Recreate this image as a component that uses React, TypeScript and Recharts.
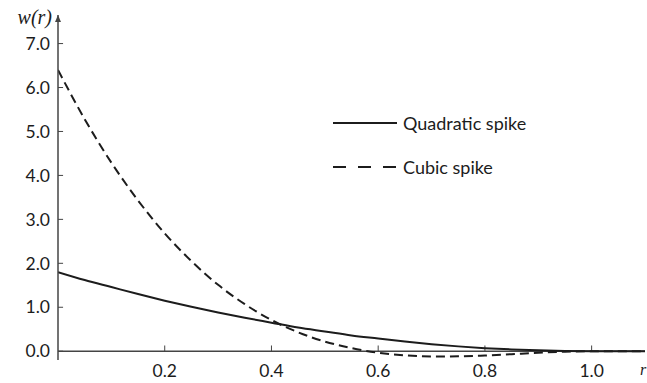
import {
  LineChart,
  Line,
  XAxis,
  YAxis,
  ReferenceLine,
  ReferenceDot,
  Legend
} from 'recharts'

// sample radii and the two kernel profiles
const rValues = [
  0, 0.05, 0.1, 0.15, 0.2, 0.25, 0.3, 0.35, 0.4, 0.45, 0.5, 0.55,
  0.6, 0.65, 0.7, 0.75, 0.8, 0.85, 0.9, 0.95, 1.0, 1.05, 1.1
]
const quadraticSpike = [
  1.8, 1.62, 1.46, 1.3, 1.15, 1.01, 0.88, 0.76, 0.65, 0.54, 0.45, 0.36,
  0.29, 0.22, 0.16, 0.11, 0.07, 0.04, 0.02, 0.005, 0, 0, 0
]
const cubicSpike = [
  6.4, 5.28, 4.29, 3.43, 2.68, 2.05, 1.51, 1.07, 0.71, 0.43, 0.22, 0.07,
  -0.035, -0.095, -0.12, -0.117, -0.097, -0.067, -0.035, -0.01, 0, 0, 0
]
const xTicks = [0.2, 0.4, 0.6, 0.8, 1.0]
const yTicks = [0, 1, 2, 3, 4, 5, 6, 7]

const data = rValues.map((r, i) => ({
  r,
  quadratic: quadraticSpike[i],
  cubic: cubicSpike[i]
}))

const FONT = 'Lato, "Open Sans", sans-serif'
const INK = '#1c1c1c'
const AXIS = '#444'

function AxisArrow(props: any) {
  const { cx, cy } = props
  return (
    <g>
      <polygon
        points={`${cx},${cy} ${cx - 3},${cy + 7} ${cx + 3},${cy + 7}`}
        fill={AXIS}
      />
      <text
        x={cx - 6}
        y={cy + 9}
        textAnchor="end"
        fontFamily='"Liberation Serif", serif'
        fontStyle="italic"
        fontSize={20}
        fill={INK}
      >
        w(r)
      </text>
    </g>
  )
}

// axis variable at the right end of the r axis
function RLabel(props: any) {
  const { cx, cy } = props
  return (
    <text
      x={cx - 5}
      y={cy + 24}
      fontFamily='"Liberation Serif", serif'
      fontStyle="italic"
      fontSize={16}
      fill={INK}
    >
      r
    </text>
  )
}

function SpikeLegend() {
  const rows = [
    { name: 'Quadratic spike', dash: undefined },
    { name: 'Cubic spike', dash: '13 12' }
  ]
  return (
    <div>
      {rows.map((row) => (
        <div
          key={row.name}
          style={{ display: 'flex', alignItems: 'center', height: 44 }}
        >
          <svg width={70} height={10}>
            <line
              x1={0}
              y1={5}
              x2={64}
              y2={5}
              stroke={INK}
              strokeWidth={2}
              strokeDasharray={row.dash}
            />
          </svg>
          <span style={{ fontFamily: FONT, fontSize: 18, color: INK }}>
            {row.name}
          </span>
        </div>
      ))}
    </div>
  )
}

export default function App() {
  return (
    <div style={{ position: 'fixed', left: 0, top: 0, background: '#fff' }}>
      <LineChart
        width={647}
        height={383}
        data={data}
        margin={{ top: 15, right: 2, bottom: 0, left: 0 }}
      >
        <XAxis
          type="number"
          dataKey="r"
          domain={[0, 1.1]}
          ticks={xTicks}
          allowDataOverflow
          tickFormatter={(v: number) => v.toFixed(1)}
          axisLine={false}
          tickLine={false}
          tickSize={3}
          tickMargin={2}
          height={23}
          tick={{ fontFamily: FONT, fontSize: 17.5, fill: INK }}
        />
        <YAxis
          type="number"
          domain={[-0.2, 7.65]}
          ticks={yTicks}
          allowDataOverflow
          tickFormatter={(v: number) => v.toFixed(1)}
          axisLine={{ stroke: AXIS, strokeWidth: 1.5 }}
          tickLine={false}
          tickSize={6}
          tickMargin={2}
          width={58}
          tick={{ fontFamily: FONT, fontSize: 17.5, fill: INK }}
        />
        <ReferenceLine y={0} stroke={AXIS} strokeWidth={1.5} />
        {xTicks.map((t) => (
          <ReferenceLine
            key={`xt-${t}`}
            segment={[{ x: t, y: 0 }, { x: t, y: 0.13 }]}
            stroke={AXIS}
            strokeWidth={1}
          />
        ))}
        {yTicks.map((t) => (
          <ReferenceLine
            key={`yt-${t}`}
            segment={[{ x: 0, y: t }, { x: 0.0095, y: t }]}
            stroke={AXIS}
            strokeWidth={1}
          />
        ))}
        <ReferenceDot x={0} y={7.65} ifOverflow="visible" shape={AxisArrow} />
        <ReferenceDot x={1.1} y={0} ifOverflow="visible" shape={RLabel} />
        <Line
          type="monotone"
          dataKey="quadratic"
          stroke={INK}
          strokeWidth={2}
          dot={false}
          isAnimationActive={false}
        />
        <Line
          type="monotone"
          dataKey="cubic"
          stroke={INK}
          strokeWidth={2}
          strokeDasharray="9 5"
          dot={false}
          isAnimationActive={false}
        />
        <Legend
          layout="vertical"
          align="center"
          verticalAlign="middle"
          content={<SpikeLegend />}
          wrapperStyle={{ position: 'absolute', left: 333, top: 101, width: 220 }}
        />
      </LineChart>
    </div>
  )
}
